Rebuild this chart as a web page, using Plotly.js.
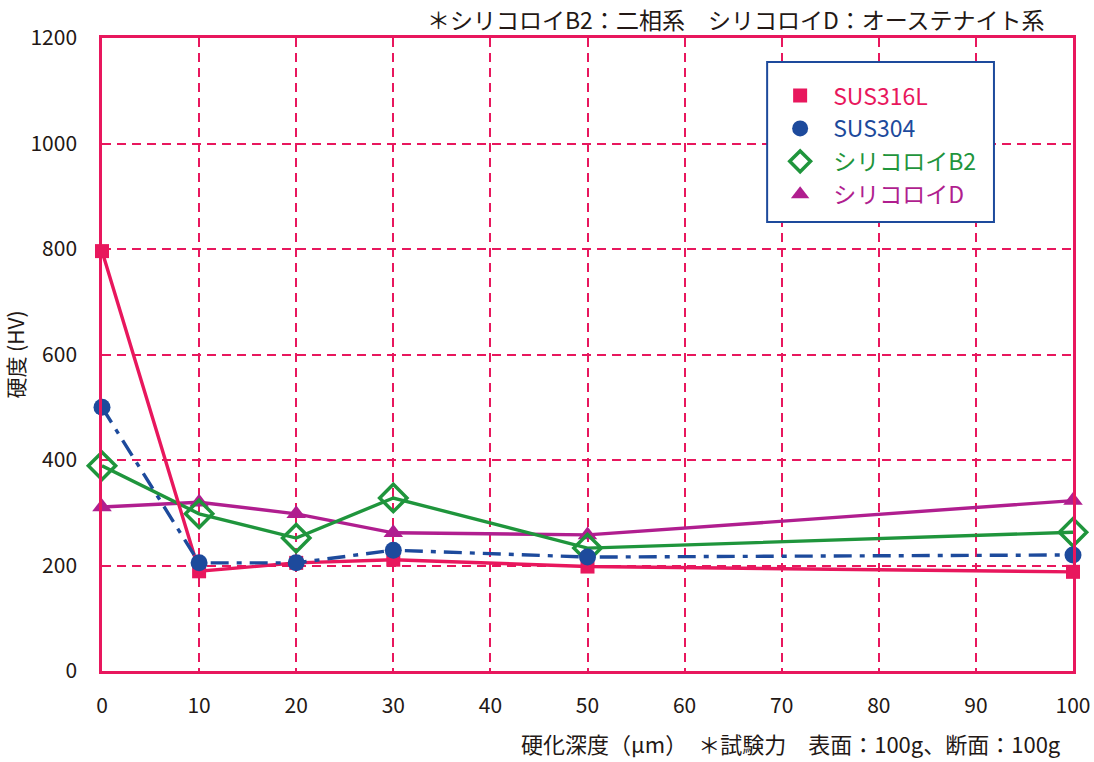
<!DOCTYPE html>
<html>
<head>
<meta charset="utf-8">
<script src="https://cdn.plot.ly/plotly-3.0.1.min.js"></script>
<style>
  body { margin: 0; background: #fff; }
  #chart { width: 1094px; height: 762px; }
</style>
</head>
<body>
<div id="chart"></div>
<script>
const depth = [0, 10, 20, 30, 50, 100];
const sus316l = [796, 189, 205, 211, 198, 188];
const sus304 = [500, 205, 205, 229, 216, 220];
const siliB2 = [389, 298, 252, 328, 233, 263];
const siliD = [311, 320, 298, 262, 258, 323];

const xTicks = [0, 10, 20, 30, 40, 50, 60, 70, 80, 90, 100];
const yTicks = [0, 200, 400, 600, 800, 1000, 1200];

const pink = '#e8175d';
const blue = '#1d4a9c';
const green = '#1f953c';
const purple = '#b01e8f';
const font = '"Noto Sans CJK JP", "Noto Sans", sans-serif';

const series = [
  { name: 'シリコロイD', y: siliD, color: purple, dash: 'solid', rank: 4,
    marker: { symbol: 'triangle-up', size: 17, color: purple } },
  { name: 'シリコロイB2', y: siliB2, color: green, dash: 'solid', rank: 3,
    marker: { symbol: 'diamond-open', size: 21, color: green, line: { width: 3.5, color: green } } },
  { name: 'SUS316L', y: sus316l, color: pink, dash: 'solid', rank: 1,
    marker: { symbol: 'square', size: 14, color: pink } },
  { name: 'SUS304', y: sus304, color: blue, dash: '18px,8px,5px,8px', rank: 2,
    marker: { symbol: 'circle', size: 17, color: blue } },
];

const traces = [];
series.forEach((s) => {
  traces.push({
    x: depth,
    y: s.y,
    type: 'scatter',
    mode: 'lines',
    line: { color: s.color, width: 3.4, dash: s.dash },
    showlegend: false,
    hoverinfo: 'skip',
  });
  traces.push({
    x: depth,
    y: s.y,
    type: 'scatter',
    mode: 'markers',
    name: '<span style="color:' + s.color + '">' + s.name + '</span>',
    legendrank: s.rank,
    marker: s.marker,
    cliponaxis: false,
  });
});

const layout = {
  width: 1094,
  height: 762,
  margin: { l: 102, r: 21, t: 38, b: 91 },
  paper_bgcolor: '#fff',
  plot_bgcolor: '#fff',
  font: { family: font, size: 21, color: '#231815' },
  showlegend: true,
  legend: {
    x: 0.685,
    y: 0.943,
    xanchor: 'left',
    yanchor: 'top',
    bgcolor: 'rgba(0,0,0,0)',
    borderwidth: 0,
    font: { family: font, size: 23 },
    tracegroupgap: 0,
    itemwidth: 56,
  },
  shapes: [
    {
      type: 'rect',
      xref: 'paper', yref: 'paper',
      x0: 0.685, x1: 0.9186, y0: 0.7093, y1: 0.962,
      fillcolor: '#fff',
      line: { color: blue, width: 2 },
      layer: 'above',
    },
  ],
  xaxis: {
    range: [0, 100],
    tickvals: xTicks,
    ticktext: xTicks.map(String),
    showgrid: true,
    gridcolor: pink,
    griddash: '9px,6px',
    gridwidth: 1.5,
    zeroline: false,
    showline: true,
    linecolor: pink,
    linewidth: 2.5,
    mirror: true,
    ticks: '',
    ticklabelstandoff: 14,
    tickfont: { family: font, size: 21, color: '#231815' },
  },
  yaxis: {
    range: [0, 1200],
    tickvals: yTicks,
    ticktext: yTicks.map(String),
    showgrid: true,
    gridcolor: pink,
    griddash: '9px,6px',
    gridwidth: 1.5,
    zeroline: false,
    showline: true,
    linecolor: pink,
    linewidth: 2.5,
    mirror: true,
    ticks: '',
    ticklabelstandoff: 18,
    tickfont: { family: font, size: 21, color: '#231815' },
    title: { text: '硬度 (HV)', font: { family: font, size: 21, color: '#231815' }, standoff: 12 },
  },
  annotations: [
    {
      text: '＊シリコロイB2：二相系　シリコロイD：オーステナイト系',
      xref: 'paper', yref: 'paper',
      x: 0.653, y: 1.0,
      xanchor: 'center', yanchor: 'bottom',
      yshift: 0,
      showarrow: false,
      font: { family: font, size: 23, color: '#231815' },
    },
    {
      text: '硬化深度（μm）　＊試験力　表面：100g、断面：100g',
      xref: 'paper', yref: 'paper',
      x: 0.71, y: 0,
      xanchor: 'center', yanchor: 'top',
      yshift: -54,
      showarrow: false,
      font: { family: font, size: 22, color: '#231815' },
    },
  ],
};

Plotly.newPlot('chart', traces, layout, { displayModeBar: false });
</script>
</body>
</html>
